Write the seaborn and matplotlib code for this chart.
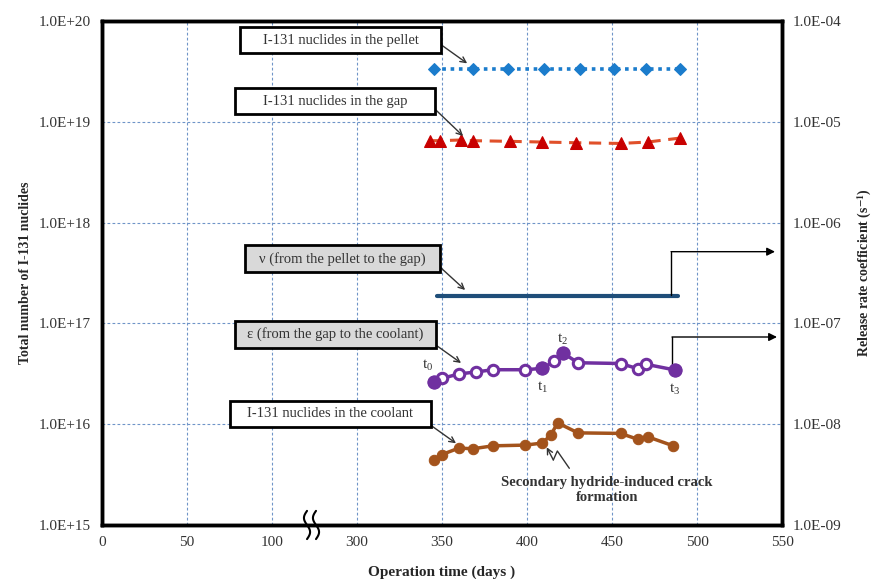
import numpy as np
import matplotlib
matplotlib.use('Agg')
import matplotlib.pyplot as plt
import seaborn as sns
from matplotlib.patches import Rectangle
from matplotlib.ticker import FixedLocator, FuncFormatter, NullLocator

# values (x in days)
pellet_days = [345, 368, 389, 410, 431, 451, 470, 490]
pellet_n = [3.35e19, 3.35e19, 3.35e19, 3.35e19, 3.35e19, 3.35e19, 3.35e19, 3.35e19]

gap_days = [343, 349, 361, 368, 390, 409, 429, 455, 471, 490]
gap_n = [6.5e18, 6.5e18, 6.6e18, 6.5e18, 6.4e18, 6.3e18, 6.2e18, 6.1e18, 6.3e18, 6.9e18]

nu_days = [347, 489]
nu_rate = [1.87e-7, 1.87e-7]

eps_days = [345, 350, 360, 370, 380, 399, 409, 416, 421, 430, 455, 465, 470, 487]
eps_rate = [2.6e-8, 2.85e-8, 3.15e-8, 3.3e-8, 3.47e-8, 3.47e-8, 3.58e-8,
            4.2e-8, 5.1e-8, 4.07e-8, 4.0e-8, 3.56e-8, 3.93e-8, 3.45e-8]
eps_marks = [0, 6, 8, 13]
eps_mark_labels = ['t_0', 't_1', 't_2', 't_3']

cool_days = [345, 350, 360, 368, 380, 399, 409, 414, 418, 430, 455, 465, 471, 486]
cool_n = [4.4e15, 5.0e15, 5.8e15, 5.7e15, 6.1e15, 6.2e15, 6.5e15,
          7.8e15, 1.03e16, 8.2e15, 8.1e15, 7.1e15, 7.5e15, 6.1e15]

x_ticks = [0, 50, 100, 300, 350, 400, 450, 500, 550]
left_ticks = [1e15, 1e16, 1e17, 1e18, 1e19, 1e20]
right_ticks = [1e-9, 1e-8, 1e-7, 1e-6, 1e-5, 1e-4]


# broken time axis: 100..300 days squeezed into a short gap
def fwd(x):
    x = np.asarray(x, dtype=float)
    return np.where(x <= 100, x, np.where(x >= 300, x - 150, 100 + (x - 100) * 0.25))


def inv(u):
    u = np.asarray(u, dtype=float)
    return np.where(u <= 100, u, np.where(u >= 150, u + 150, 100 + (u - 100) * 4))


sns.set_style('white')
plt.rcParams['font.family'] = ['Liberation Serif', 'DejaVu Serif']
plt.rcParams['mathtext.fontset'] = 'stix'

fig, ax = plt.subplots(figsize=(8.77, 5.79), dpi=100)
fig.subplots_adjust(left=0.1163, right=0.8917, top=0.9637, bottom=0.0933)

ax.set_xscale('function', functions=(fwd, inv))
ax.set_yscale('log')
ax.set_xlim(0, 550)
ax.set_ylim(1e15, 1e20)
ax2 = ax.twinx()
ax2.set_yscale('log')
ax2.set_ylim(1e-9, 1e-4)

# left axis: nuclide numbers
sns.lineplot(x=pellet_days, y=pellet_n, ax=ax, color='#1b7ccc', lw=2.6,
             linestyle=(0, (1, 1.3)), marker='D', markersize=6,
             markeredgecolor='#1b7ccc', markerfacecolor='#1b7ccc', errorbar=None)
sns.lineplot(x=gap_days, y=gap_n, ax=ax, color='#e0502a', lw=2.2,
             linestyle=(0, (4, 2.5)), marker='^', markersize=9,
             markeredgecolor='#c80000', markerfacecolor='#c80000', errorbar=None)
sns.lineplot(x=cool_days, y=cool_n, ax=ax, color='#a3531c', lw=2.5,
             marker='o', markersize=7.5, markeredgecolor='#a3531c',
             markerfacecolor='#a3531c', errorbar=None)

# right axis: release rate coefficients
sns.lineplot(x=nu_days, y=nu_rate, ax=ax2, color='#1f4e79', lw=3, errorbar=None)
sns.lineplot(x=eps_days, y=eps_rate, ax=ax2, color='#7030a0', lw=2.5,
             marker='o', markersize=7.5, markeredgecolor='#7030a0',
             markerfacecolor='white', markeredgewidth=2.2, errorbar=None)
sns.scatterplot(x=[eps_days[i] for i in eps_marks], y=[eps_rate[i] for i in eps_marks],
                ax=ax2, color='#7030a0', s=90, edgecolor='#7030a0', zorder=4)

offsets = [(-4, 12), (0, -14), (0, 10), (0, -14)]
for i, lab, off in zip(eps_marks, eps_mark_labels, offsets):
    ax2.annotate('$\\mathregular{' + lab + '}$', xy=(eps_days[i], eps_rate[i]),
                 xytext=off, textcoords='offset points', ha='center', va='center',
                 fontsize=11, color='#333333')

# axes styling
fmt = FuncFormatter(lambda v, p: f'{v:.1E}')
ax.xaxis.set_major_locator(FixedLocator(x_ticks))
ax.xaxis.set_major_formatter(FuncFormatter(lambda v, p: f'{v:.0f}'))
ax.xaxis.set_minor_locator(NullLocator())
for a, ticks in ((ax, left_ticks), (ax2, right_ticks)):
    a.yaxis.set_major_locator(FixedLocator(ticks))
    a.yaxis.set_major_formatter(fmt)
    a.yaxis.set_minor_locator(NullLocator())
    a.tick_params(length=0, labelsize=11, pad=8, colors='#333333')
    for sp in a.spines.values():
        sp.set_color('black')
        sp.set_linewidth(2.5)

ax.grid(True, which='major', color='#6f94c8', linestyle=(0, (2.5, 2)), lw=0.8)

ax.set_xlabel('Operation time (days )', fontsize=11, fontweight='bold', labelpad=12)
ax.set_ylabel('Total number of I-131 nuclides', fontsize=10, fontweight='bold', labelpad=5)
ax2.set_ylabel('Release rate coefficient (s$^{\\mathbf{-1}}$)', fontsize=10,
               fontweight='bold', rotation=90, labelpad=10)

# labelled boxes with arrows
boxes = [
    (0.203, 0.9365, 0.2956, 0.0516, 'I-131 nuclides in the pellet', 'white',
     (0.4996, 0.952), (0.537, 0.916)),
    (0.1951, 0.8149, 0.2946, 0.0516, 'I-131 nuclides in the gap', 'white',
     (0.491, 0.8234), (0.531, 0.7718)),
    (0.2103, 0.5014, 0.2868, 0.0542, '\u03bd (from the pellet to the gap)', '#d9d9d9',
     (0.497, 0.5119), (0.534, 0.4663)),
    (0.1956, 0.3506, 0.2956, 0.0548, '\u03b5 (from the gap to the coolant)', '#d9d9d9',
     (0.491, 0.357), (0.528, 0.3214)),
    (0.1882, 0.195, 0.2951, 0.0516, 'I-131 nuclides in the coolant', 'white',
     (0.485, 0.1964), (0.5206, 0.1621)),
]
for x0, y0, w, h, txt, fc, start, end in boxes:
    ax2.add_patch(Rectangle((x0, y0), w, h, transform=ax2.transAxes, fc=fc,
                            ec='black', lw=2, zorder=5, clip_on=False))
    ax2.text(x0 + w / 2, y0 + h / 2, txt, transform=ax2.transAxes, ha='center',
             va='center', fontsize=10.5, color='#333333', zorder=6)
    ax2.annotate('', xy=end, xytext=start, xycoords='axes fraction',
                 textcoords='axes fraction',
                 arrowprops=dict(arrowstyle='->', color='#333333', lw=1,
                                 shrinkA=0, shrinkB=0))

# elbow arrows pointing to the right axis
for xs, ylo, yhi, xe in ((0.8368, 0.4563, 0.5423, 0.9897), (0.8382, 0.3075, 0.373, 0.9926)):
    ax2.plot([xs, xs], [ylo, yhi], transform=ax2.transAxes, color='black', lw=1, clip_on=False)
    ax2.annotate('', xy=(xe, yhi), xytext=(xs, yhi), xycoords='axes fraction',
                 textcoords='axes fraction',
                 arrowprops=dict(arrowstyle='-|>', color='black', lw=1,
                                 shrinkA=0, shrinkB=0, mutation_scale=12))

# crack formation note with zigzag arrow
ax2.text(0.7426, 0.0694, 'Secondary hydride-induced crack\nformation', transform=ax2.transAxes,
         ha='center', va='center', fontsize=10.5, fontweight='bold', color='#333333',
         linespacing=1.25)
ax2.plot([0.6872, 0.6696, 0.6637], [0.1125, 0.1468, 0.129], transform=ax2.transAxes,
         color='#333333', lw=1)
ax2.annotate('', xy=(0.654, 0.1542), xytext=(0.6637, 0.129), xycoords='axes fraction',
             textcoords='axes fraction',
             arrowprops=dict(arrowstyle='->', color='#333333', lw=1, shrinkA=0, shrinkB=0))

# axis break mark
t = np.linspace(0, 1, 50)
for xb in (0.3015, 0.3147):
    ax2.plot(xb + 0.0045 * np.sin(2 * np.pi * t), -0.028 + 0.056 * t, transform=ax2.transAxes,
             color='black', lw=1.5, clip_on=False, zorder=6)

fig.savefig('out.png', dpi=100)
